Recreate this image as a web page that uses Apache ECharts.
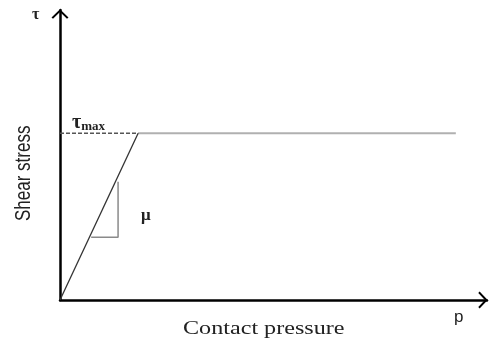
<!DOCTYPE html>
<html>
<head>
    <meta charset="utf-8">
    <script src="https://cdn.jsdelivr.net/npm/echarts@6/dist/echarts.min.js"></script>
</head>
<body style="margin:0;background:#fff;">
    <div id="main" style="width:490px;height:347px;"></div>
</body>
<script type="text/javascript">
    // stick-slip law: tau = mu * p up to tau_max, then flat
    var slipP = [0, 18.3];
    var slipTau = [0, 57.5];
    var tauMax = 57.5;
    var plateauP = [18.3, 92.7];
    var dashP = [0, 18.3];
    // little slope triangle (p, tau)
    var triP = [7.3, 13.6, 13.6];
    var triTau = [21.6, 21.6, 40.8];

    // open arrow head, like the hand drawn one
    var chevron = 'path://M0,8.6 L9,0 L18,8.6 L16.4,10 L9,3 L1.6,10 Z';

    var myChart = echarts.init(document.getElementById('main'));

    function pairs(xs, ys) {
        return xs.map(function (x, i) { return [x, ys[i]]; });
    }

    var axisCommon = {
        type: 'value', min: 0, max: 100,
        splitLine: { show: false },
        axisTick: { show: false },
        axisLabel: { show: false },
        axisLine: {
            lineStyle: { color: '#000', width: 2.5 },
            symbol: ['none', chevron],
            symbolSize: [17, 10],
            symbolOffset: [0, -4]
        }
    };

    myChart.setOption({
        backgroundColor: '#fff',
        animation: false,
        grid: { left: 60, right: 3, top: 10, bottom: 47 },
        xAxis: axisCommon,
        yAxis: axisCommon,
        series: [
            {
                type: 'line', symbol: 'none',
                lineStyle: { color: '#b0b0b0', width: 2 },
                data: pairs(plateauP, [tauMax, tauMax])
            },
            {
                type: 'line', symbol: 'none',
                lineStyle: { color: '#555', width: 1.5, type: [4, 2] },
                data: pairs(dashP, [tauMax, tauMax])
            },
            {
                type: 'line', symbol: 'none',
                lineStyle: { color: '#333', width: 1.3 },
                data: pairs(slipP, slipTau)
            },
            {
                type: 'line', symbol: 'none',
                lineStyle: { color: '#8a8a8a', width: 1.5 },
                data: pairs(triP, triTau)
            }
        ],
        graphic: [
            {
                type: 'text', left: 32, top: 7,
                style: { text: 'τ', font: 'bold 16px "Liberation Serif"', fill: '#222' }
            },
            {
                type: 'text', left: 72, top: 113,
                style: {
                    text: '{a|τ}{b|max}',
                    rich: {
                        a: { font: 'bold 20px "Liberation Serif"', fill: '#222' },
                        b: { font: 'bold 13px "Liberation Serif"', fill: '#222', padding: [7, 0, 0, 0] }
                    }
                }
            },
            {
                type: 'text', left: 141, top: 207,
                style: { text: 'μ', font: 'bold 17px "Liberation Serif"', fill: '#222' }
            },
            {
                type: 'text', left: 454, top: 309,
                style: { text: 'p', font: '17px "Liberation Sans"', fill: '#222' }
            },
            {
                type: 'text', x: 183, y: 320, scaleX: 1.42, scaleY: 1.05,
                style: { text: 'Contact pressure', font: '17px "Liberation Serif"', fill: '#222' }
            },
            {
                type: 'text', x: 13, y: 221, rotation: Math.PI / 2,
                scaleX: 1.0, scaleY: 1.3,
                style: { text: 'Shear stress', font: '17px "Liberation Sans Narrow", "Liberation Sans"', fill: '#222' }
            }
        ]
    });
</script>
</html>
